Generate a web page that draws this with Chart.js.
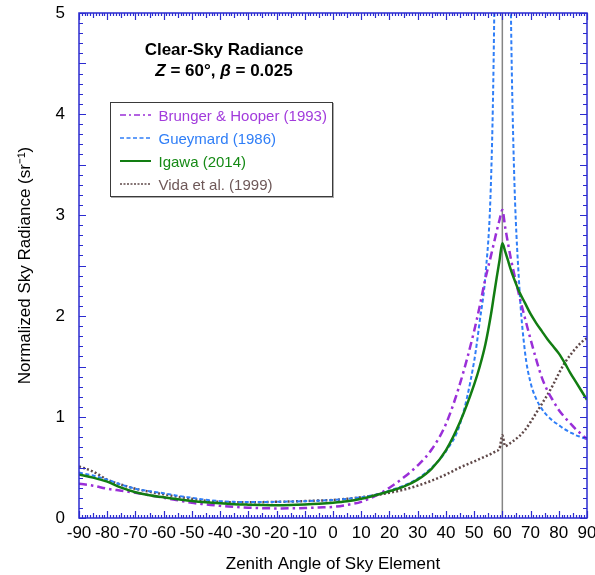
<!DOCTYPE html>
<html><head><meta charset="utf-8">
<script src="https://cdn.jsdelivr.net/npm/chart.js@4.4.1/dist/chart.umd.min.js"></script>
<style>
html,body{margin:0;padding:0;background:#fff;}
#wrap{position:relative;width:595px;height:575px;font-family:"Liberation Sans",Arial,Helvetica,sans-serif;overflow:hidden;}
#c{position:absolute;left:0;top:0;}
#title{position:absolute;left:124px;top:39px;width:200px;text-align:center;font-weight:bold;font-size:17px;line-height:21px;color:#000;}
#legend{position:absolute;left:110px;top:102px;width:221px;height:93px;border:1.5px solid #3a3a3a;box-shadow:1px 1px 0 #aaa;background:#fff;}
.row{position:absolute;left:8.5px;height:20px;display:flex;align-items:center;font-size:15px;white-space:nowrap;}
.row svg{margin-right:8px;}
</style></head>
<body><div id="wrap"><canvas id="c" width="595" height="575"></canvas>
<div id="title">Clear-Sky Radiance<br><i>Z</i> = 60°, <i>β</i> = 0.025</div>
<div id="legend"></div></div>
<script>
const angles = [-90,-85,-80,-75,-70,-65,-60,-55,-50,-45,-40,-35,-30,-25,-20,-15,-10,-5,0,5,10,15,20,25,30,35,40,45,50,52,54,56,57,58,59,60,61,62,63,64,66,68,70,72,74,76,78,80,82,84,86,88,90];
const brunger = [0.34,0.32,0.29,0.27,0.25,0.225,0.20,0.175,0.15,0.135,0.12,0.11,0.102,0.097,0.095,0.096,0.099,0.104,0.11,0.13,0.16,0.22,0.30,0.40,0.52,0.68,0.93,1.33,1.85,2.1,2.37,2.6,2.72,2.84,2.95,3.05,2.88,2.72,2.57,2.44,2.2,1.98,1.77,1.57,1.39,1.26,1.16,1.07,1.0,0.94,0.88,0.83,0.78];
const gueymard = [0.45,0.42,0.38,0.33,0.29,0.265,0.245,0.22,0.20,0.18,0.167,0.16,0.158,0.158,0.16,0.163,0.167,0.172,0.178,0.19,0.205,0.23,0.27,0.32,0.39,0.50,0.66,0.93,1.55,1.95,2.4,3.35,4.7,7.5,15,60,15,8,5.1,3.6,2.3,1.65,1.34,1.18,1.08,1.01,0.96,0.92,0.88,0.85,0.82,0.80,0.78];
const igawa = [0.43,0.40,0.36,0.30,0.255,0.225,0.205,0.185,0.168,0.155,0.145,0.137,0.132,0.128,0.126,0.128,0.133,0.14,0.15,0.165,0.19,0.225,0.265,0.31,0.38,0.49,0.67,0.95,1.32,1.5,1.72,2.02,2.2,2.38,2.55,2.72,2.64,2.55,2.46,2.38,2.24,2.13,2.02,1.93,1.85,1.77,1.70,1.63,1.54,1.44,1.35,1.26,1.17];
const vida = [0.51,0.46,0.38,0.33,0.29,0.26,0.235,0.21,0.19,0.17,0.16,0.155,0.155,0.157,0.16,0.163,0.168,0.173,0.178,0.19,0.205,0.225,0.25,0.28,0.32,0.37,0.43,0.50,0.56,0.585,0.61,0.635,0.65,0.665,0.685,0.82,0.71,0.725,0.745,0.765,0.81,0.87,0.95,1.04,1.13,1.22,1.32,1.43,1.53,1.61,1.68,1.74,1.78];
const seriesNames = ["Brunger & Hooper (1993)","Gueymard (1986)","Igawa (2014)","Vida et al. (1999)"];
const xTicks = {min:-90, max:90, step:10};
const yTicks = {min:0, max:5, step:1};
const peakAngle = 60;

const styles = [
  {color:'#9a2fd8', text:'#a23bdc', width:2.5, dash:[8,4,2.5,4], svgDash:'6,3,2,3'},
  {color:'#2f7ef7', text:'#2f7ef7', width:2, dash:[4,2.5], svgDash:'4,2.5'},
  {color:'#127d12', text:'#168a16', width:2.5, dash:[], svgDash:''},
  {color:'#5f4848', text:'#6e5858', width:2.5, dash:[2,2.2], svgDash:'2,1.5'}
];
const values = [brunger, gueymard, igawa, vida];

const datasets = values.map((vals,i)=>({
  label: seriesNames[i],
  data: angles.map((a,j)=>({x:a, y:vals[j]})),
  borderColor: styles[i].color,
  borderWidth: styles[i].width,
  borderDash: styles[i].dash,
  pointRadius: 0,
  fill: false,
  cubicInterpolationMode: 'monotone',
  order: i===2 ? 0 : 1
}));

// legend (HTML text)
const lg = document.getElementById('legend');
const tops = [2,25,48,71];
seriesNames.forEach((n,i)=>{
  const r = document.createElement('div');
  r.className='row'; r.style.top=tops[i]+'px'; r.style.color=styles[i].text;
  r.innerHTML = `<svg width="31" height="6"><line x1="0" y1="3" x2="31" y2="3" stroke="${styles[i].color}" stroke-width="${i===2?2:1.6}" ${styles[i].svgDash?`stroke-dasharray="${styles[i].svgDash}"`:''}/></svg>`;
  const s=document.createElement('span'); s.textContent=n; r.appendChild(s);
  lg.appendChild(r);
});

const frame = {
  id:'frame',
  beforeDatasetsDraw(chart){
    const {ctx, scales:{x,y}} = chart;
    const px = x.getPixelForValue(peakAngle);
    ctx.save(); ctx.strokeStyle='#858585'; ctx.lineWidth=1.5;
    ctx.beginPath(); ctx.moveTo(px, y.getPixelForValue(yTicks.min)); ctx.lineTo(px, y.getPixelForValue(yTicks.max)); ctx.stroke();
    ctx.restore();
  },
  afterDatasetsDraw(chart){
    const {ctx, chartArea:a, scales:{x,y}} = chart;
    ctx.save();
    ctx.strokeStyle='#2b2bd0'; ctx.lineWidth=1.5;
    ctx.strokeRect(a.left, a.top, a.right-a.left, a.bottom-a.top);
    ctx.lineWidth=1.2;
    ctx.beginPath();
    for(let d=xTicks.min; d<=xTicks.max; d++){
      const p = Math.round(x.getPixelForValue(d))+0.5;
      const L = d%10===0 ? 7 : (d%5===0 ? 5 : 3);
      ctx.moveTo(p, a.bottom); ctx.lineTo(p, a.bottom-L);
      ctx.moveTo(p, a.top); ctx.lineTo(p, a.top+L);
    }
    for(let k=0; k<=50; k++){
      const v = k/10;
      const p = Math.round(y.getPixelForValue(v))+0.5;
      const L = k%5===0 ? 7 : 4;
      ctx.moveTo(a.left, p); ctx.lineTo(a.left+L, p);
      ctx.moveTo(a.right, p); ctx.lineTo(a.right-L, p);
    }
    ctx.stroke();
    ctx.restore();
  }
};

const font = {family:'"Liberation Sans", Arial, Helvetica, sans-serif', size:17};
new Chart(document.getElementById('c'), {
  type:'line',
  data:{datasets},
  options:{
    responsive:false, animation:false, devicePixelRatio:1,
    layout:{padding:{left:0,right:8,top:13,bottom:0}},
    plugins:{legend:{display:false}, tooltip:{enabled:false}},
    scales:{
      x:{type:'linear', min:xTicks.min, max:xTicks.max,
        grid:{display:false, drawTicks:false}, border:{display:false},
        ticks:{stepSize:xTicks.step, autoSkip:false, maxRotation:0, padding:5, color:'#000', font},
        title:{display:true, text:'Zenith Angle of Sky Element', color:'#000', font:{...font, size:17}, padding:{top:0,bottom:0}},
        afterFit(s){ s.height=57; s.paddingLeft=0; s.paddingRight=0; }
      },
      y:{type:'linear', min:yTicks.min, max:yTicks.max,
        grid:{display:false, drawTicks:false}, border:{display:false},
        ticks:{stepSize:yTicks.step, padding:14, color:'#000', font},
        title:{display:true, text:'Normalized Sky Radiance (sr⁻¹)', color:'#000', font:{...font, size:17}, padding:{top:15,bottom:0}},
        afterFit(s){ s.width=79; s.paddingTop=0; s.paddingBottom=0; }
      }
    }
  },
  plugins:[frame]
});
</script>
</body></html>
